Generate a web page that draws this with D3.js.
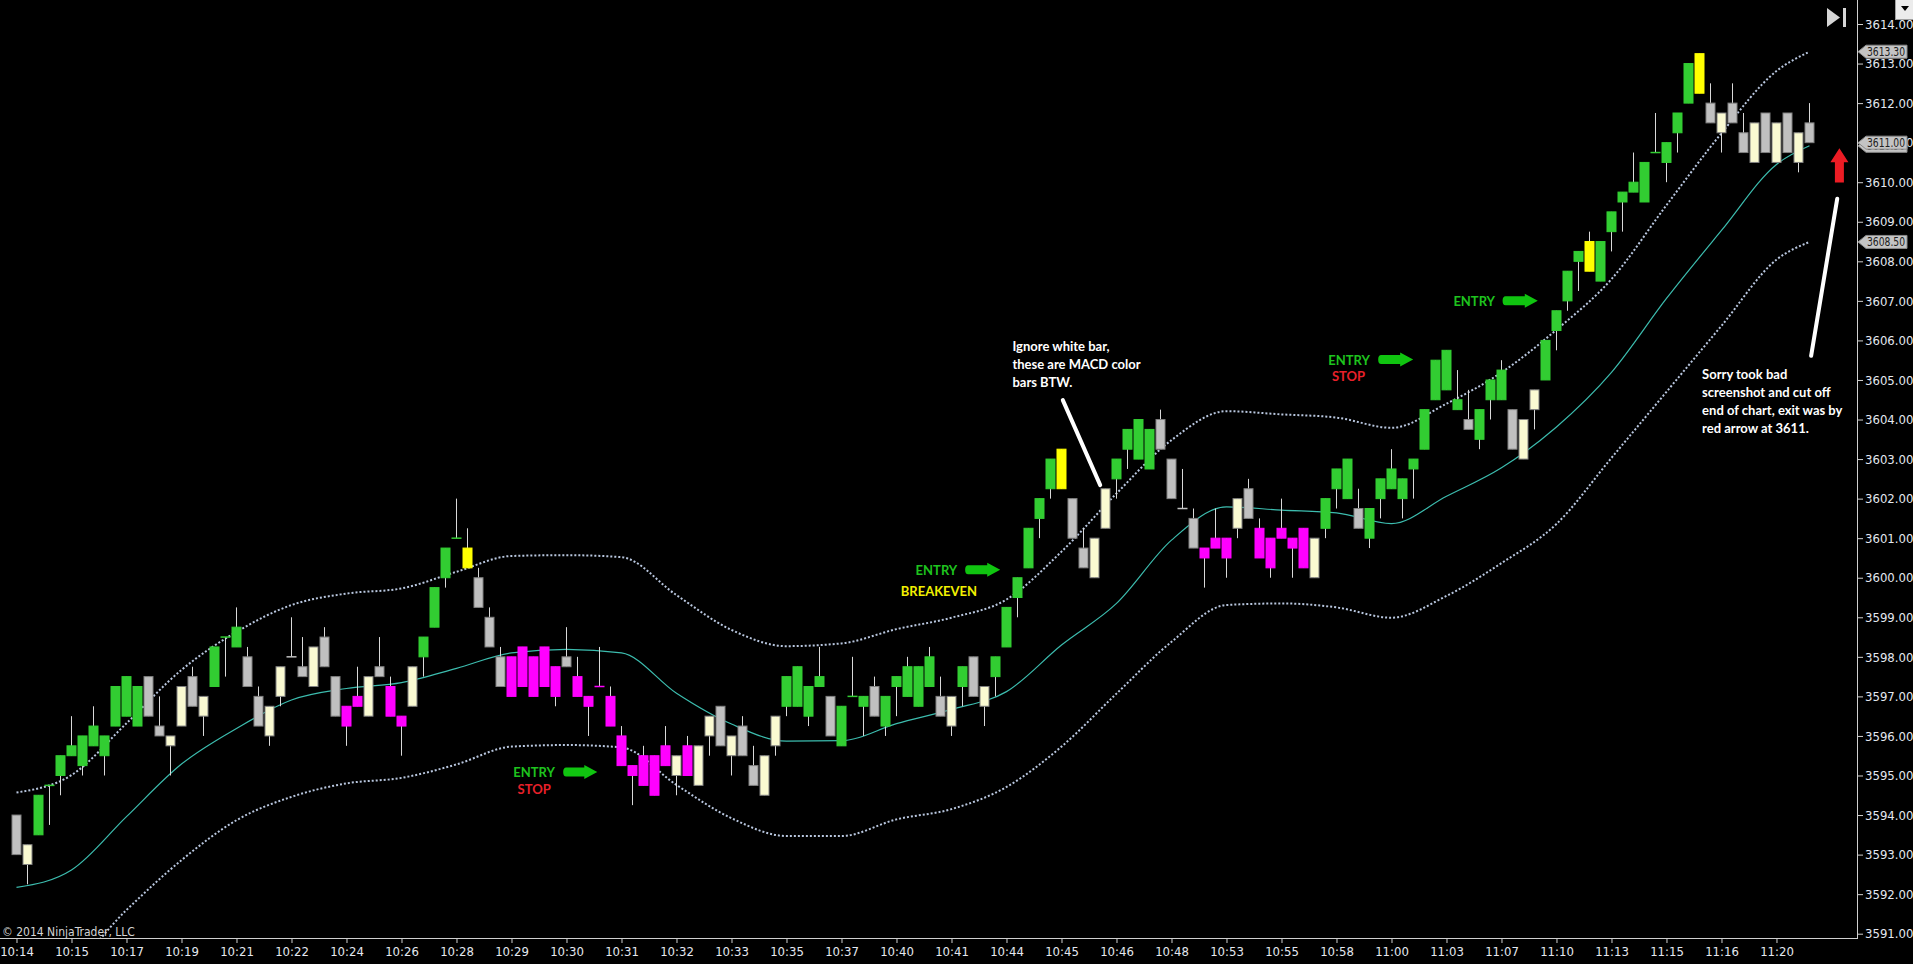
<!DOCTYPE html>
<html lang="en">
<head>
<meta charset="UTF-8">
<script src="https://d3js.org/d3.v7.min.js"></script>
<title>Range chart</title>
<style>
  body { margin: 0; background: #000; overflow: hidden; }
  svg { display: block; background: #000; }
  .axis text { font-family: "Liberation Sans Narrow", "Arial Narrow", "DejaVu Sans Condensed", sans-serif; font-size: 13px; fill: #e4e8f0; }
  .axis line { stroke: #d0d0d0; }
  .note { font-family: Lato, "Open Sans", sans-serif; font-weight: 700; font-size: 13px; }
</style>
</head>
<body>
<svg id="chart" width="1913" height="964"></svg>
<script>
// bar data (1 point range bars), index = bar number
const openPx = [
  3594,3593.25,3593.5,3594.75,3595,3595.5,3595.25,3595.75,3595.5,3596.25,
  3596.5,3596.25,3597.5,3596.25,3596,3597.25,3597.5,3597,3597.25,3598.5,
  3598.25,3598,3597,3596.75,3597.75,3598,3597.75,3598.25,3598.5,3597.5,
  3596.75,3597,3597.5,3597.75,3597.25,3596.5,3597.75,3598,3598.75,3600,
  3601,3600.25,3600,3599,3598,3598,3598.25,3598,3598.25,3597.75,
  3598,3597.5,3597,3597.25,3597,3596,3595.25,3595.5,3595.5,3595.75,
  3595.5,3595.75,3595.75,3596.5,3596.75,3596,3596.25,3595.25,3595.5,3596.5,
  3596.75,3596.75,3596.5,3597.25,3597,3595.75,3597,3596.75,3597.25,3596.25,
  3597.25,3597,3596.75,3597.25,3597,3597,3597.25,3598,3597.25,3597.5,
  3598.25,3599.5,3600.25,3601.5,3602.25,3602.25,3602,3600.75,3601,3602.25,
  3602.5,3603.25,3603,3602.75,3604,3603,3601.75,3601.5,3600.75,3601,
  3601,3602,3602.25,3601.25,3601,3601.25,3601,3601.25,3601,3601.25,
  3602.25,3602,3601.75,3601,3602,3602.25,3602,3602.75,3603.25,3604.5,
  3604.75,3604.25,3604,3603.5,3604.5,3604.5,3604.25,3604,3604.75,3605,
  3606.25,3607,3608,3607.75,3607.5,3608.75,3609.5,3609.75,3609.5,3610.75,
  3610.5,3611.25,3612,3612.25,3612,3611.75,3612,3611.25,3611.5,3611.75,
  3611.5,3611.75,3611.25,3611.5
];
const highPx = [
  3594,3593.25,3594.5,3594.75,3595.5,3596.5,3596,3596.75,3596,3597.25,
  3597.5,3597.25,3597.5,3597,3596,3597.25,3597.75,3597,3598.25,3598.5,
  3599.25,3598.25,3597.25,3596.75,3597.75,3599,3598.5,3598.25,3598.75,3597.5,
  3596.75,3597.75,3597.5,3598.5,3597.5,3596.5,3597.75,3598.5,3599.75,3600.75,
  3602,3601.25,3600.25,3599.25,3598.25,3598,3598.25,3598,3598.25,3597.75,
  3598.75,3598,3597,3598.25,3597.25,3596.25,3595.25,3595.75,3595.5,3596.25,
  3595.5,3596,3595.75,3596.5,3596.75,3596,3596.5,3595.75,3595.5,3596.5,
  3597.5,3597.75,3597.25,3598.25,3597,3596.75,3598,3597,3597.5,3597,
  3597.5,3598,3597.75,3598.25,3597.5,3597,3597.75,3598,3597.25,3598,
  3599.25,3600,3601.25,3602,3603,3603.25,3602,3601.25,3601,3602.25,
  3603,3603.75,3604,3603.75,3604.25,3603,3602.75,3601.75,3600.75,3601.75,
  3601,3602,3602.5,3601.5,3601,3602,3601,3601.25,3601,3602,
  3602.75,3603,3602.25,3601.75,3602.5,3603.25,3602.5,3603,3604.25,3605.5,
  3605.75,3605.25,3604.75,3604.25,3605,3605.5,3604.25,3604,3604.75,3606,
  3606.75,3607.75,3608.25,3608.75,3608.5,3609.25,3609.75,3610.75,3610.5,3611.75,
  3611,3611.75,3613,3613.25,3612.5,3611.75,3612.5,3611.75,3611.5,3611.75,
  3611.5,3611.75,3611.25,3612
];
const lowPx = [
  3593,3592.25,3593.5,3593.75,3594.5,3595.5,3595,3595.75,3595,3596.25,
  3596.5,3596.25,3596.5,3596,3595,3596.25,3596.75,3596,3597.25,3597.5,
  3598.25,3597.25,3596.25,3595.75,3596.75,3598,3597.5,3597.25,3597.75,3596.5,
  3595.75,3596.75,3596.5,3597.5,3596.5,3595.5,3596.75,3597.5,3598.75,3599.75,
  3601,3600.25,3599.25,3598.25,3597.25,3597,3597.25,3597,3597.25,3596.75,
  3597.75,3597,3596,3597.25,3596.25,3595.25,3594.25,3594.75,3594.5,3595.25,
  3594.5,3595,3594.75,3595.5,3595.75,3595,3595.5,3594.75,3594.5,3595.5,
  3596.5,3596.75,3596.25,3597.25,3596,3595.75,3597,3596,3596.5,3596,
  3596.5,3597,3596.75,3597.25,3596.5,3596,3596.75,3597,3596.25,3597,
  3598.25,3599,3600.25,3601,3602,3602.25,3601,3600.25,3600,3601.25,
  3602,3602.75,3603,3602.75,3603.25,3602,3601.75,3600.75,3599.75,3600.75,
  3600,3601,3601.5,3600.5,3600,3601,3600,3600.25,3600,3601,
  3601.75,3602,3601.25,3600.75,3601.5,3602.25,3601.5,3602,3603.25,3604.5,
  3604.75,3604.25,3603.75,3603.25,3604,3604.5,3603.25,3603,3603.75,3605,
  3605.75,3606.75,3607.25,3607.75,3607.5,3608.25,3608.75,3609.75,3609.5,3610.75,
  3610,3610.75,3612,3612.25,3611.5,3610.75,3611.5,3610.75,3610.5,3610.75,
  3610.5,3610.75,3610.25,3611
];
const closePx = [
  3593,3592.75,3594.5,3594.75,3595.5,3595.75,3596,3596.25,3596,3597.25,
  3597.5,3597.25,3596.5,3596,3595.75,3596.25,3596.75,3596.5,3598.25,3598.5,
  3598.75,3597.25,3596.25,3596,3597,3598,3597.5,3597.25,3597.75,3596.5,
  3596.25,3596.75,3596.5,3597.5,3596.5,3596.25,3596.75,3598.5,3599.75,3600.75,
  3601,3600.75,3599.25,3598.25,3597.25,3597,3597.25,3597,3597.25,3597,
  3597.75,3597,3596.75,3597.25,3596.25,3595.25,3595,3594.75,3594.5,3595.25,
  3595,3595,3594.75,3596,3595.75,3595.5,3595.5,3594.75,3594.5,3595.75,
  3597.5,3597.75,3597.25,3597.5,3596,3596.75,3597,3597,3596.5,3597,
  3597.5,3597.75,3597.75,3598,3596.5,3596.25,3597.75,3597,3596.75,3598,
  3599.25,3600,3601.25,3602,3603,3603.25,3601,3600.25,3600,3601.25,
  3603,3603.75,3604,3603.75,3603.25,3602,3601.75,3600.75,3600.5,3600.75,
  3600.5,3601.25,3601.5,3600.5,3600.25,3601,3600.75,3600.25,3600,3602,
  3602.75,3603,3601.25,3601.75,3602.5,3602.75,3602.5,3603,3604.25,3605.5,
  3605.75,3604.5,3603.75,3604.25,3605,3605.25,3603.25,3603,3604.25,3606,
  3606.75,3607.75,3608.25,3608.5,3608.5,3609.25,3609.75,3610,3610.5,3610.75,
  3611,3611.75,3613,3613.25,3611.5,3611.25,3611.5,3610.75,3610.5,3610.75,
  3610.5,3610.75,3610.5,3611
];
// MACD colour state per bar: g up, y peak, s flat grey, c cream, m down
const macdState = (
  "s c g g g g g g g g " + "g g s s c c s c g g " + "g s s c c s s c s s " +
  "m m c s m m c g g g " + "g y s s s m m m m m " + "s m m m m m m m m m " +
  "c m c c s c s s c c " + "g g g g s g g g s g " + "g g g g s c g s c g " +
  "g g g g g y s s c c " + "g g g g s s s s m m " + "m c s m m m m m c g " +
  "g g s g g g g g g g " + "g g s g g g s c c g " + "g g g y g g g g g g " +
  "g g g y s c s s c s " + "c s c s").split(" ");

// band readings every 5 bars plus the last bar
const bandBars = [0,5,10,15,20,25,30,35,40,45,50,55,60,65,70,75,80,85,90,95,
  100,105,110,115,120,125,130,135,140,145,150,155,160,163];
const upperBand = [3594.57,3595.01,3596.32,3597.67,3598.63,3599.31,3599.6,3599.73,3600.15,3600.55,
  3600.57,3600.52,3599.56,3598.68,3598.27,3598.34,3598.7,3598.99,3599.45,3600.66,
  3602.13,3603.48,3604.21,3604.13,3604.05,3603.79,3604.4,3605.19,3606.27,3607.55,
  3609.42,3611.24,3612.81,3613.3];
const middleBand = [3592.17,3592.61,3593.96,3595.29,3596.19,3596.91,3597.2,3597.35,3597.71,3598.1,
  3598.19,3598.1,3597.08,3596.3,3595.87,3595.88,3596.31,3596.67,3597.12,3598.3,
  3599.35,3600.95,3601.79,3601.71,3601.64,3601.37,3602.06,3602.78,3603.81,3605.19,
  3607.06,3608.78,3610.45,3610.92];
const lowerBand = [3589.8,3590.2,3591.6,3592.86,3593.87,3594.46,3594.8,3594.94,3595.28,3595.73,
  3595.77,3595.71,3594.76,3593.92,3593.47,3593.47,3593.89,3594.15,3594.71,3595.73,
  3597.07,3598.38,3599.31,3599.35,3599.25,3598.99,3599.54,3600.37,3601.36,3603.03,
  3604.7,3606.37,3608.04,3608.49];

const tickBars = d3.range(0, 161, 5);
const timeLabels = ["10:14","10:15","10:17","10:19","10:21","10:22","10:24","10:26","10:28",
  "10:29","10:30","10:31","10:32","10:33","10:35","10:37","10:40","10:41","10:44","10:45",
  "10:46","10:48","10:53","10:55","10:58","11:00","11:03","11:07","11:10","11:13","11:15",
  "11:16","11:20"];
const priceTicks = d3.range(3591, 3615, 1);

const stateFill = { g: "#32cd32", y: "#ffff00", s: "#c0c0c0", c: "#fafad2", m: "#ff00ff" };
const stateStroke = { g: "#32cd32", y: "#ffff00", s: "#808080", c: "#808080", m: "#ff00ff" };

const svg = d3.select("#chart");
const plotRight = 1857, plotBottom = 938;
const x = d3.scaleLinear().domain([-1.5, 167.32]).range([0, plotRight]);
const y = d3.scaleLinear().domain([3591, 3614]).range([933.7, 24]);
const bodyW = 9;
const narrow = "\"Liberation Sans Narrow\", \"Arial Narrow\", \"DejaVu Sans Condensed\", sans-serif";

svg.append("clipPath").attr("id", "plotClip")
  .append("rect").attr("x", 0).attr("y", 0).attr("width", plotRight).attr("height", plotBottom);

const plot = svg.append("g").attr("clip-path", "url(#plotClip)");

// bands
const bandLine = d3.line().x(d => x(d[0])).y(d => y(d[1])).curve(d3.curveMonotoneX);
[upperBand, lowerBand].forEach(vals => {
  plot.append("path")
    .attr("d", bandLine(bandBars.map((b, i) => [b, vals[i]])))
    .attr("fill", "none")
    .attr("stroke", "#b8c6de")
    .attr("stroke-width", 2)
    .attr("stroke-dasharray", "2,2");
});
plot.append("path")
  .attr("d", bandLine(bandBars.map((b, i) => [b, middleBand[i]])))
  .attr("fill", "none")
  .attr("stroke", "#3cbcae")
  .attr("stroke-width", 1.2);

// candles
const bars = d3.range(openPx.length);
plot.selectAll(".wick").data(bars).join("line")
  .attr("class", "wick")
  .attr("x1", i => Math.round(x(i)) + 0.5).attr("x2", i => Math.round(x(i)) + 0.5)
  .attr("y1", i => y(highPx[i])).attr("y2", i => y(lowPx[i]))
  .attr("stroke", "#d8d8d8").attr("stroke-width", 1);

plot.selectAll(".body").data(bars.filter(i => openPx[i] !== closePx[i])).join("rect")
  .attr("class", "body")
  .attr("x", i => Math.round(x(i)) - bodyW / 2 + 0.5)
  .attr("y", i => y(Math.max(openPx[i], closePx[i])))
  .attr("width", bodyW)
  .attr("height", i => y(Math.min(openPx[i], closePx[i])) - y(Math.max(openPx[i], closePx[i])))
  .attr("fill", i => stateFill[macdState[i]])
  .attr("stroke", i => stateStroke[macdState[i]])
  .attr("stroke-width", 1);

plot.selectAll(".doji").data(bars.filter(i => openPx[i] === closePx[i])).join("line")
  .attr("class", "doji")
  .attr("x1", i => Math.round(x(i)) - bodyW / 2).attr("x2", i => Math.round(x(i)) + bodyW / 2 + 1)
  .attr("y1", i => y(openPx[i])).attr("y2", i => y(openPx[i]))
  .attr("stroke", i => stateFill[macdState[i]]).attr("stroke-width", 1.5);

// annotations (bar index / price space)
const noteTexts = [
  { t: "ENTRY", b: 47.06, p: 3594.95, c: "#1ec31e", a: "middle" },
  { t: "STOP", b: 47.06, p: 3594.54, c: "#e8202a", a: "middle" },
  { t: "ENTRY", b: 83.63, p: 3600.08, c: "#1ec31e", a: "middle" },
  { t: "BREAKEVEN", b: 83.86, p: 3599.55, c: "#f2f000", a: "middle" },
  { t: "ENTRY", b: 121.15, p: 3605.39, c: "#1ec31e", a: "middle" },
  { t: "STOP", b: 121.1, p: 3604.97, c: "#e8202a", a: "middle" },
  { t: "ENTRY", b: 132.52, p: 3606.88, c: "#1ec31e", a: "middle" },
  { t: "Ignore white bar,", b: 90.54, p: 3605.74, c: "#ffffff", a: "start" },
  { t: "these are MACD color", b: 90.54, p: 3605.28, c: "#ffffff", a: "start" },
  { t: "bars BTW.", b: 90.54, p: 3604.83, c: "#ffffff", a: "start" },
  { t: "Sorry took bad", b: 153.24, p: 3605.02, c: "#ffffff", a: "start" },
  { t: "screenshot and cut off", b: 153.24, p: 3604.57, c: "#ffffff", a: "start" },
  { t: "end of chart, exit was by", b: 153.24, p: 3604.11, c: "#ffffff", a: "start" },
  { t: "red arrow at 3611.", b: 153.24, p: 3603.66, c: "#ffffff", a: "start" }
];
svg.selectAll(".note").data(noteTexts).join("text")
  .attr("class", "note")
  .attr("x", d => x(d.b)).attr("y", d => y(d.p))
  .attr("text-anchor", d => d.a)
  .attr("fill", d => d.c)
  .text(d => d.t);

// green block arrows pointing right
const greenArrows = [
  { b0: 49.7, b1: 52.8, p: 3595.09 },
  { b0: 86.24, b1: 89.43, p: 3600.2 },
  { b0: 123.79, b1: 126.97, p: 3605.52 },
  { b0: 135.1, b1: 138.3, p: 3607.0 }
];
svg.selectAll(".garrow").data(greenArrows).join("path")
  .attr("class", "garrow")
  .attr("fill", "#10c410")
  .attr("d", d => {
    const x0 = x(d.b0), x1 = x(d.b1), yc = y(d.p), hx = x1 - 13;
    return `M${x0 + 3},${yc - 4.5} L${hx},${yc - 4.5} L${hx},${yc - 7} L${x1},${yc} ` +
      `L${hx},${yc + 7} L${hx},${yc + 4.5} L${x0 + 3},${yc + 4.5} ` +
      `Q${x0},${yc + 4.5} ${x0},${yc} Q${x0},${yc - 4.5} ${x0 + 3},${yc - 4.5} Z`;
  });

// white pointer lines
const pointers = [
  { b0: 95.12, p0: 3604.49, b1: 98.52, p1: 3602.34 },
  { b0: 165.52, p0: 3609.58, b1: 163.15, p1: 3605.61 }
];
svg.selectAll(".pointer").data(pointers).join("line")
  .attr("class", "pointer")
  .attr("x1", d => x(d.b0)).attr("y1", d => y(d.p0))
  .attr("x2", d => x(d.b1)).attr("y2", d => y(d.p1))
  .attr("stroke", "#ffffff").attr("stroke-width", 4).attr("stroke-linecap", "round");

// red exit arrow
const exitArrow = { b: 165.72, tip: 3610.86, base: 3609.99 };
{
  const xc = x(exitArrow.b), yt = y(exitArrow.tip), yb = y(exitArrow.base), yh = yt + 14;
  svg.append("path")
    .attr("fill", "#ec1c24")
    .attr("d", `M${xc},${yt} L${xc + 9},${yh} L${xc + 4.5},${yh} L${xc + 4.5},${yb} ` +
      `L${xc - 4.5},${yb} L${xc - 4.5},${yh} L${xc - 9},${yh} Z`);
}

// x axis
svg.append("line").attr("x1", 0).attr("x2", plotRight).attr("y1", plotBottom + 0.5).attr("y2", plotBottom + 0.5)
  .attr("stroke", "#d0d0d0");
const xAxis = svg.append("g").attr("class", "axis").attr("transform", `translate(0,${plotBottom})`)
  .call(d3.axisBottom(x).tickValues(tickBars).tickFormat((d, i) => timeLabels[i]).tickSize(5).tickPadding(4));
xAxis.select(".domain").remove();

// price axis
svg.append("line").attr("x1", plotRight + 0.5).attr("x2", plotRight + 0.5).attr("y1", 0).attr("y2", plotBottom + 1)
  .attr("stroke", "#d0d0d0");
const yAxis = svg.append("g").attr("class", "axis").attr("transform", `translate(${plotRight},0)`)
  .call(d3.axisRight(y).tickValues(priceTicks).tickFormat(d3.format(".2f")).tickSize(6).tickPadding(2));
yAxis.select(".domain").remove();

// value tags on price axis: upper band, middle band, last close, lower band
const tagValues = [upperBand[upperBand.length - 1], middleBand[middleBand.length - 1],
  closePx[closePx.length - 1], lowerBand[lowerBand.length - 1]];
const tagFmt = v => (Math.round(v * 10) / 10).toFixed(2);
const tags = svg.selectAll(".tag").data(tagValues).join("g").attr("class", "tag")
  .attr("transform", v => `translate(${plotRight + 1},${y(v)})`);
tags.append("path")
  .attr("d", "M0,0 L8,-6.5 L49,-6.5 L49,6.5 L8,6.5 Z")
  .attr("fill", "#c4c4c4").attr("stroke", "#8a8a8a");
tags.append("text")
  .attr("x", 9).attr("y", 0).attr("dy", "0.35em")
  .attr("font-family", narrow)
  .attr("font-size", 12.5).attr("fill", "#202020")
  .attr("textLength", 38).attr("lengthAdjust", "spacingAndGlyphs")
  .text(tagFmt);

// copyright
svg.append("text").attr("x", 2).attr("y", 936)
  .attr("font-family", narrow)
  .attr("font-size", 12).attr("fill", "#d4d4d4")
  .text("\u00a9 2014 NinjaTrader, LLC");

// top-right controls
svg.append("path").attr("d", "M1827,8 L1840,17.5 L1827,27 Z").attr("fill", "#d6d6d6");
svg.append("rect").attr("x", 1843).attr("y", 8).attr("width", 3).attr("height", 19).attr("fill", "#d6d6d6");
svg.append("rect").attr("x", 1895.5).attr("y", -1).attr("width", 18).attr("height", 20.5)
  .attr("fill", "#ececec").attr("stroke", "#a0a0a0");
svg.append("path").attr("d", "M1901,6 L1909,6 L1905,11 Z").attr("fill", "#000");
</script>
</body>
</html>
